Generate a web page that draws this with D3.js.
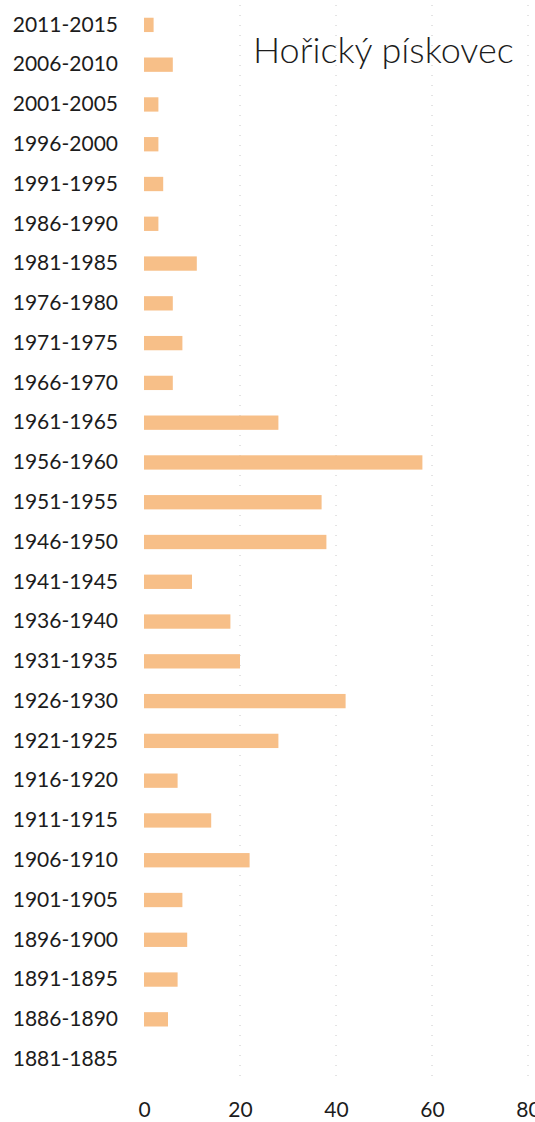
<!DOCTYPE html>
<html>
<head>
<meta charset="utf-8">
<script src="https://cdn.jsdelivr.net/npm/d3@7"></script>
<style>
body { margin: 0; background: #fff; }
text { font-family: Lato, "Open Sans", sans-serif; fill: #1c1c1c; }
</style>
</head>
<body>
<div id="chart"></div>
<script>
var w = 535;
var h = 1122;

var periods = ["2011-2015", "2006-2010", "2001-2005", "1996-2000", "1991-1995", "1986-1990",
	"1981-1985", "1976-1980", "1971-1975", "1966-1970", "1961-1965", "1956-1960",
	"1951-1955", "1946-1950", "1941-1945", "1936-1940", "1931-1935", "1926-1930",
	"1921-1925", "1916-1920", "1911-1915", "1906-1910", "1901-1905", "1896-1900",
	"1891-1895", "1886-1890", "1881-1885"];
var counts = [2, 6, 3, 3, 4, 3,
	11, 6, 8, 6, 28, 58,
	37, 38, 10, 18, 20, 42,
	28, 7, 14, 22, 8, 9,
	7, 5, 0];
var xTicks = [0, 20, 40, 60, 80];
var title = "Hořický pískovec";

var barColor = "#f7bf88";

var svg = d3.select("#chart")
	.append("svg")
	.attr("width", w)
	.attr("height", h);

var x = d3.scaleLinear()
	.domain([0, 80])
	.range([144, 528]);

var y = d3.scaleBand()
	.domain(periods)
	.range([5, 1079])
	.paddingInner(0.64)
	.paddingOuter(0.32);

// faint gridlines, like the scanned original
svg.append("g")
	.selectAll("line")
	.data(xTicks.slice(1))
	.enter()
	.append("line")
	.attr("x1", (d) => x(d))
	.attr("x2", (d) => x(d))
	.attr("y1", 5)
	.attr("y2", 1079)
	.attr("stroke", "#c8c8c8")
	.attr("stroke-width", 1)
	.attr("stroke-dasharray", "1,9");

svg.append("g")
	.selectAll("rect")
	.data(counts)
	.enter()
	.append("rect")
	.attr("x", x(0))
	.attr("y", (d, i) => y(periods[i]))
	.attr("width", (d) => x(d) - x(0))
	.attr("height", y.bandwidth())
	.attr("fill", barColor);

// category labels
var yAxis = svg.append("g")
	.attr("transform", "translate(126,0)")
	.call(d3.axisLeft(y).tickSize(0).tickPadding(8));
yAxis.select(".domain").remove();
yAxis.selectAll("text")
	.style("font-size", "21px")
	.attr("fill", "#1c1c1c");

// value axis
var xAxis = svg.append("g")
	.attr("transform", "translate(0,1096)")
	.call(d3.axisBottom(x).tickValues(xTicks).tickSize(0).tickPadding(6));
xAxis.select(".domain").remove();
xAxis.selectAll("text")
	.style("font-size", "21px")
	.attr("fill", "#1c1c1c");

svg.append("text")
	.attr("x", 253)
	.attr("y", 63)
	.style("font-size", "36px")
	.style("font-weight", 300)
	.text(title);
</script>
</body>
</html>
